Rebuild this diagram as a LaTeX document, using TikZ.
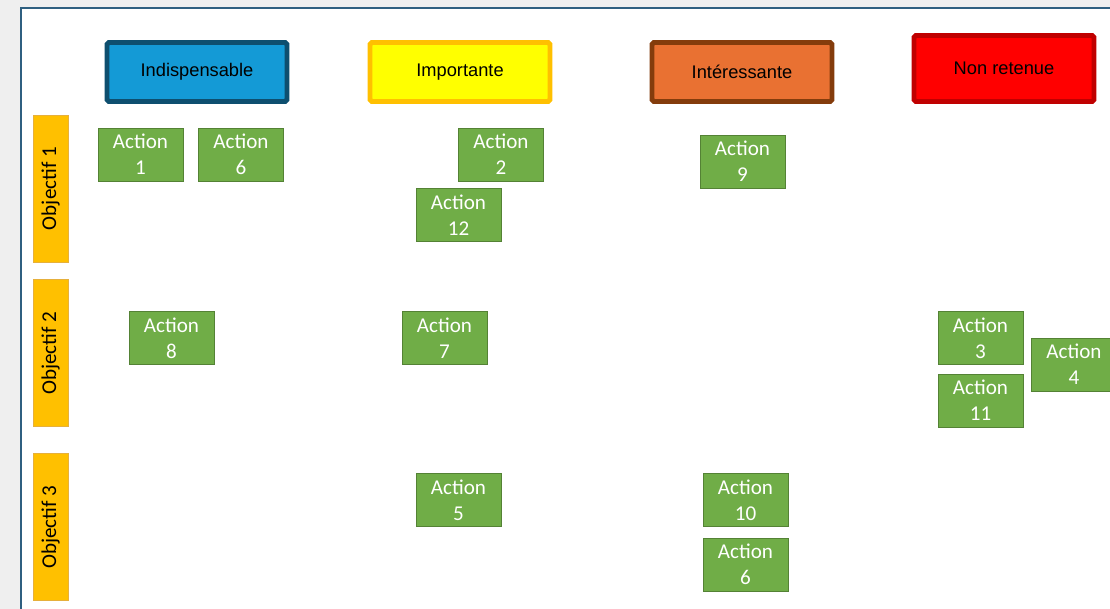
\documentclass[tikz,border=0pt]{standalone}
\usepackage{fontspec}
\setmainfont{Carlito}
\newfontfamily\arialf{Liberation Sans}
\definecolor{fond}{RGB}{239,239,239}
\definecolor{cadre}{RGB}{47,95,128}
\definecolor{bleuf}{RGB}{20,154,214}
\definecolor{bleub}{RGB}{14,79,111}
\definecolor{jaunef}{RGB}{255,255,0}
\definecolor{jauneb}{RGB}{255,192,0}
\definecolor{orangef}{RGB}{233,113,50}
\definecolor{orangeb}{RGB}{132,60,12}
\definecolor{rougef}{RGB}{255,0,0}
\definecolor{rougeb}{RGB}{192,0,0}
\definecolor{objf}{RGB}{255,192,0}
\definecolor{objb}{RGB}{230,176,60}
\definecolor{vertf}{RGB}{112,173,71}
\definecolor{vertb}{RGB}{84,130,53}

\begin{document}
\begin{tikzpicture}[x=0.02cm,y=-0.02cm,
  entete/.style={draw,line width=2.8pt,rounded corners=1pt,minimum width=3.6cm,minimum height=1.18cm,inner sep=0pt,font=\arialf\fontsize{10.4}{12}\selectfont},
  objectif/.style={draw=objb,fill=objf,rotate=90,minimum width=2.94cm,minimum height=0.7cm,inner sep=0pt,font=\fontsize{12}{14}\selectfont},
  action/.style={draw=vertb,fill=vertf,text=white,align=center,minimum width=1.7cm,minimum height=1.06cm,inner sep=0pt,font=\fontsize{12}{14.7}\selectfont}]
\useasboundingbox (0,0) rectangle (1110,609);
\clip (0,0) rectangle (1110,609);
\fill[fond] (0,0) rectangle (1110,609);
\draw[cadre,line width=0.8pt,fill=white] (21,8) rectangle (1120,620);
% colonnes
\node[entete,draw=bleub,fill=bleuf] (ind) at (197,72) {Indispensable};
\node[entete,draw=jauneb,fill=jaunef] (imp) at (460,72) {Importante};
\node[entete,draw=orangeb,fill=orangef] (int) at (742,72) {Intéressante};
\node[entete,draw=rougeb,fill=rougef,minimum height=1.32cm] (non) at (1004,68.5) {Non retenue};
% lignes
\node[objectif] (obj1) at (50.5,188.5) {Objectif 1};
\node[objectif] (obj2) at (50.5,353) {Objectif 2};
\node[objectif] (obj3) at (50.5,527) {Objectif 3};
% actions
\node[action] (a1) at (140.5,154.5) {Action\\1};
\node[action] (a6) at (241,154.5) {Action\\6};
\node[action] (a2) at (501,154.5) {Action\\2};
\node[action] (a12) at (458.5,215) {Action\\12};
\node[action] (a9) at (742.5,161.5) {Action\\9};
\node[action] (a8) at (171.5,338) {Action\\8};
\node[action] (a7) at (444.5,338) {Action\\7};
\node[action] (a3) at (980.5,338) {Action\\3};
\node[action] (a11) at (980.5,400.5) {Action\\11};
\node[action] (a4) at (1074,364.5) {Action\\4};
\node[action] (a5) at (458.5,500) {Action\\5};
\node[action] (a10) at (745.5,500) {Action\\10};
\node[action] (a6b) at (745.5,564.5) {Action\\6};
\end{tikzpicture}
\end{document}
